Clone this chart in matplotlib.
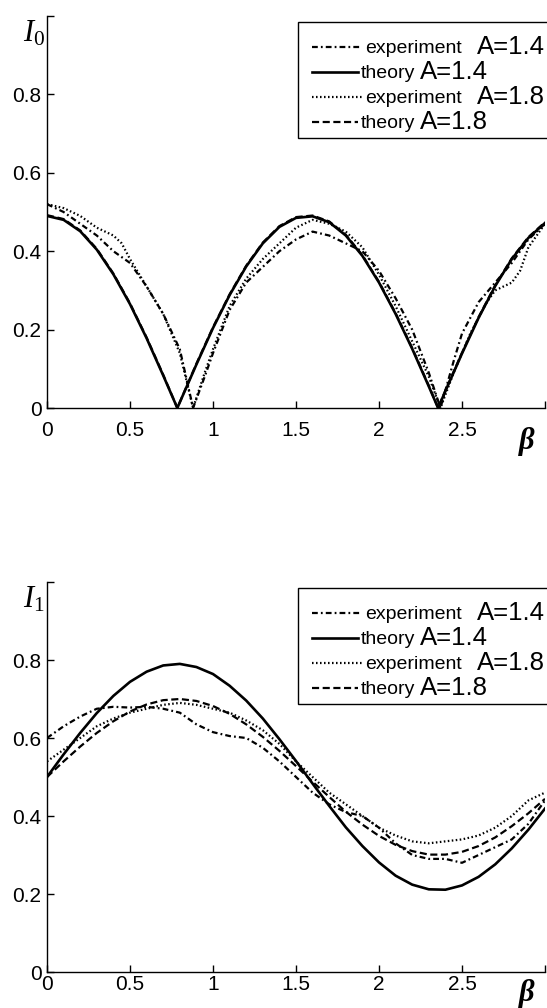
import matplotlib
matplotlib.use("Agg")
import matplotlib.pyplot as plt
from matplotlib.lines import Line2D
from matplotlib.patches import Rectangle

plt.rcParams['font.family'] = ['Liberation Sans', 'DejaVu Sans']
plt.rcParams['mathtext.fontset'] = 'custom'
plt.rcParams['mathtext.rm'] = 'Liberation Serif'
plt.rcParams['mathtext.it'] = 'Liberation Serif:italic'
plt.rcParams['mathtext.bf'] = 'Liberation Serif:bold'

W, H = 547, 1008

# ---------------- data: top panel (I_0) ----------------
beta_th0 = [0, 0.1, 0.2, 0.3, 0.4, 0.5, 0.6, 0.7, 0.785, 0.9, 1.0, 1.1, 1.2, 1.3, 1.4, 1.5,
            1.6, 1.7, 1.8, 1.9, 2.0, 2.1, 2.2, 2.3, 2.356, 2.4, 2.5, 2.6, 2.7, 2.8, 2.9, 3.0]
th14_0 = [0.490, 0.480, 0.451, 0.404, 0.341, 0.265, 0.178, 0.083, 0.0, 0.111, 0.204, 0.288,
          0.361, 0.420, 0.462, 0.485, 0.489, 0.474, 0.440, 0.388, 0.320, 0.240, 0.151, 0.055,
          0.0, 0.043, 0.139, 0.230, 0.311, 0.380, 0.434, 0.472]
th18_0 = [0.492, 0.482, 0.453, 0.406, 0.343, 0.267, 0.180, 0.085, 0.0, 0.113, 0.206, 0.290,
          0.363, 0.422, 0.464, 0.487, 0.491, 0.476, 0.442, 0.390, 0.322, 0.242, 0.153, 0.057,
          0.0, 0.045, 0.141, 0.232, 0.313, 0.382, 0.436, 0.474]

beta_ex14_0 = [0, 0.1, 0.2, 0.3, 0.4, 0.5, 0.6, 0.7, 0.8, 0.88, 0.95, 1.0, 1.1, 1.2, 1.3, 1.4,
               1.5, 1.6, 1.7, 1.8, 1.9, 2.0, 2.1, 2.2, 2.3, 2.37, 2.45, 2.5, 2.6, 2.7, 2.8, 2.9, 3.0]
ex14_0 = [0.52, 0.50, 0.47, 0.44, 0.40, 0.37, 0.31, 0.24, 0.15, 0.0, 0.08, 0.14, 0.25, 0.32,
          0.36, 0.40, 0.43, 0.45, 0.44, 0.42, 0.40, 0.35, 0.28, 0.20, 0.09, 0.0, 0.12, 0.19,
          0.27, 0.32, 0.37, 0.43, 0.47]

beta_ex18_0 = [0, 0.1, 0.2, 0.3, 0.4, 0.45, 0.5, 0.6, 0.7, 0.8, 0.88, 0.95, 1.0, 1.1, 1.2, 1.3,
               1.4, 1.5, 1.6, 1.7, 1.8, 1.9, 2.0, 2.1, 2.2, 2.3, 2.37, 2.45, 2.55, 2.65, 2.7,
               2.8, 2.85, 2.9, 3.0]
ex18_0 = [0.52, 0.51, 0.49, 0.46, 0.44, 0.42, 0.38, 0.31, 0.24, 0.14, 0.0, 0.09, 0.15, 0.26,
          0.33, 0.38, 0.42, 0.46, 0.48, 0.47, 0.45, 0.41, 0.34, 0.26, 0.17, 0.08, 0.0, 0.09,
          0.19, 0.27, 0.30, 0.32, 0.35, 0.41, 0.47]

# ---------------- data: bottom panel (I_1) ----------------
beta_1 = [0, 0.1, 0.2, 0.3, 0.4, 0.5, 0.6, 0.7, 0.8, 0.9, 1.0, 1.1, 1.2, 1.3, 1.4, 1.5,
          1.6, 1.7, 1.8, 1.9, 2.0, 2.1, 2.2, 2.3, 2.4, 2.5, 2.6, 2.7, 2.8, 2.9, 3.0]
th14_1 = [0.500, 0.558, 0.613, 0.664, 0.708, 0.744, 0.770, 0.786, 0.790, 0.782, 0.764, 0.734,
          0.696, 0.650, 0.597, 0.541, 0.483, 0.426, 0.371, 0.323, 0.281, 0.247, 0.224, 0.212,
          0.211, 0.222, 0.244, 0.276, 0.317, 0.365, 0.419]
th18_1 = [0.500, 0.540, 0.578, 0.613, 0.643, 0.668, 0.686, 0.697, 0.700, 0.695, 0.682, 0.662,
          0.635, 0.603, 0.567, 0.528, 0.488, 0.449, 0.411, 0.378, 0.349, 0.326, 0.310, 0.301,
          0.301, 0.308, 0.323, 0.345, 0.374, 0.407, 0.444]
ex14_1 = [0.600, 0.630, 0.655, 0.675, 0.680, 0.678, 0.680, 0.675, 0.665, 0.635, 0.615, 0.605,
          0.600, 0.575, 0.540, 0.500, 0.460, 0.430, 0.410, 0.400, 0.370, 0.330, 0.300, 0.290,
          0.290, 0.280, 0.300, 0.320, 0.340, 0.380, 0.440]
ex18_1 = [0.540, 0.570, 0.600, 0.630, 0.650, 0.665, 0.675, 0.685, 0.690, 0.685, 0.675, 0.665,
          0.645, 0.620, 0.585, 0.540, 0.500, 0.460, 0.430, 0.400, 0.370, 0.350, 0.335, 0.330,
          0.335, 0.340, 0.350, 0.370, 0.400, 0.440, 0.460]

legend_labels = [("experiment", "A=1.4"), ("theory", "A=1.4"),
                 ("experiment", "A=1.8"), ("theory", "A=1.8")]
xtick_vals = [0, 0.5, 1, 1.5, 2, 2.5, 3]
xtick_labels = ['0', '0.5', '1', '1.5', '2', '2.5', '']
ytick_vals = [0, 0.2, 0.4, 0.6, 0.8, 1.0]
ytick_labels = ['0', '0.2', '0.4', '0.6', '0.8', '']

# ---------------- styles ----------------
sty_ex14 = dict(color='black', lw=1.6, linestyle=(0, (2.6, 1.4, 0.8, 1.4)))
sty_th14 = dict(color='black', lw=1.9, linestyle='-')
sty_ex18 = dict(color='black', lw=1.6, linestyle=(0, (0.7, 1.1)))
sty_th18 = dict(color='black', lw=1.6, linestyle=(0, (3.2, 1.6)))
styles = [sty_ex14, sty_th14, sty_ex18, sty_th18]

fig = plt.figure(figsize=(W / 100, H / 100), dpi=100)


def fx(px):
    return px / W


def fy(py):
    return 1 - py / H


def make_axes(top_px, bot_px, label_pad):
    ax = fig.add_axes([fx(47), fy(bot_px), fx(545) - fx(47), fy(top_px) - fy(bot_px)])
    ax.set_xlim(0, 3)
    ax.set_ylim(0, 1)
    for s in ['top', 'right']:
        ax.spines[s].set_visible(False)
    for s in ['left', 'bottom']:
        ax.spines[s].set_linewidth(1.0)
    ax.set_xticks(xtick_vals)
    ax.set_xticklabels(xtick_labels)
    ax.set_yticks(ytick_vals)
    ax.set_yticklabels(ytick_labels)
    ax.tick_params(direction='in', length=5, width=1, labelsize=15)
    ax.tick_params(axis='x', pad=label_pad)
    ax.tick_params(axis='y', pad=4)
    return ax


def draw_legend(top_px):
    left = 298
    box_top = top_px + 6
    row0 = box_top + 25
    step = 25
    box_bot = row0 + 3 * step + 16
    fig.add_artist(Rectangle((fx(left), fy(box_bot)), 1.05 - fx(left), fy(box_top) - fy(box_bot),
                             transform=fig.transFigure, fill=True, facecolor='white',
                             edgecolor='black', lw=1.0, zorder=5))
    for i, ((word, aval), st) in enumerate(zip(legend_labels, styles)):
        y = row0 + i * step
        x0 = 312
        x1 = 362 if word == "experiment" else 358
        fig.add_artist(Line2D([fx(x0), fx(x1)], [fy(y), fy(y)], transform=fig.transFigure,
                              zorder=6, **st))
        base = y + 6
        fig.text(fx(x1 + 3), fy(base), word, fontsize=14, va='baseline', ha='left', zorder=7)
        ax_x = 477 if word == "experiment" else 420
        fig.text(fx(ax_x), fy(base + 1), aval, fontsize=18.5, va='baseline', ha='left', zorder=7)


def beta_label(cy):
    fig.text(fx(527), fy(cy), 'β', fontsize=22, ha='center', va='center',
             family='Liberation Serif', style='italic', weight='bold')


# top panel
ax0 = make_axes(16, 408, 9)
ax0.plot(beta_ex14_0, ex14_0, **sty_ex14)
ax0.plot(beta_th0, th14_0, **sty_th14)
ax0.plot(beta_ex18_0, ex18_0, **sty_ex18)
ax0.plot(beta_th0, th18_0, **sty_th18)
fig.text(fx(34), fy(34), r'$I_{\mathit{0}}$', fontsize=22, ha='center', va='center')
beta_label(441)
draw_legend(16)

# bottom panel
ax1 = make_axes(582, 972, 2)
ax1.plot(beta_1, ex14_1, **sty_ex14)
ax1.plot(beta_1, th14_1, **sty_th14)
ax1.plot(beta_1, ex18_1, **sty_ex18)
ax1.plot(beta_1, th18_1, **sty_th18)
fig.text(fx(34), fy(600), r'$I_{\mathit{1}}$', fontsize=22, ha='center', va='center')
beta_label(993)
draw_legend(582)

fig.savefig("out.png", dpi=100)
